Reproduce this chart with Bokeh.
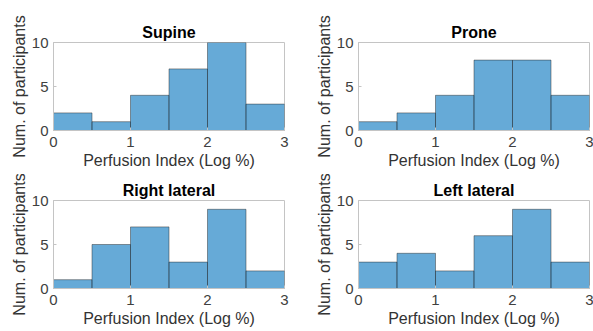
from bokeh.plotting import figure
from bokeh.layouts import column, row
from bokeh.embed import file_html
from bokeh.resources import INLINE
from bokeh.models import FixedTicker

# ---- data ----
bin_edges = [0.0, 0.5, 1.0, 1.5, 2.0, 2.5, 3.0]
titles = ["Supine", "Prone", "Right lateral", "Left lateral"]
supine = [2, 1, 4, 7, 10, 3]
prone = [1, 2, 4, 8, 8, 4]
right_lateral = [1, 5, 7, 3, 9, 2]
left_lateral = [3, 4, 2, 6, 9, 3]
x_ticks = [0, 1, 2, 3]
y_ticks = [0, 5, 10]
x_label = "Perfusion Index (Log %)"
y_label = "Num. of participants"

FONT = "Liberation Sans"
BOX = "#c4c4c4"


def make(title, counts, left_col, top_row):
    if left_col:
        w, mbl, mbr = 308, 53, 24
    else:
        w, mbl, mbr = 285, 50, 4
    if top_row:
        h, mbt, mbb = 174, 42, 44
    else:
        h, mbt, mbb = 157, 26, 43
    p = figure(width=w, height=h, x_range=(0, 3), y_range=(0, 10),
               output_backend="svg", toolbar_location=None,
               min_border_left=mbl, min_border_right=mbr,
               min_border_top=mbt, min_border_bottom=mbb)
    p.quad(left=bin_edges[:-1], right=bin_edges[1:], bottom=0, top=counts,
           fill_color="#0072BD", fill_alpha=0.6,
           line_color="#262626", line_alpha=0.45, line_width=1)
    p.title.text = title
    p.title.align = "center"
    p.title.text_font = FONT
    p.title.text_font_size = "16px"
    p.title.text_font_style = "bold"
    p.title.text_color = "#000000"
    p.title.standoff = 4
    p.xgrid.visible = False
    p.ygrid.visible = False
    p.outline_line_color = BOX
    p.outline_line_width = 1
    p.xaxis.ticker = FixedTicker(ticks=x_ticks)
    p.yaxis.ticker = FixedTicker(ticks=y_ticks)
    p.xaxis.axis_label = x_label
    p.yaxis.axis_label = y_label
    for ax in (p.xaxis, p.yaxis):
        ax.axis_line_color = BOX
        ax.major_tick_line_color = BOX
        ax.major_tick_in = 3
        ax.major_tick_out = 0
        ax.minor_tick_line_color = None
        ax.major_label_text_font = FONT
        ax.major_label_text_font_size = "15px"
        ax.major_label_text_color = "#404040"
        ax.axis_label_text_font = FONT
        ax.axis_label_text_font_size = "16px"
        ax.axis_label_text_font_style = "normal"
        ax.axis_label_text_color = "#333333"
    p.xaxis.major_label_standoff = 6
    p.xaxis.axis_label_standoff = 2
    p.yaxis.major_label_standoff = 5
    p.yaxis.axis_label_standoff = 1
    return p


p1 = make(titles[0], supine, True, True)
p2 = make(titles[1], prone, False, True)
p3 = make(titles[2], right_lateral, True, False)
p4 = make(titles[3], left_lateral, False, False)

layout = column(row(p1, p2), row(p3, p4))
open("out.html", "w").write(file_html(layout, INLINE))
